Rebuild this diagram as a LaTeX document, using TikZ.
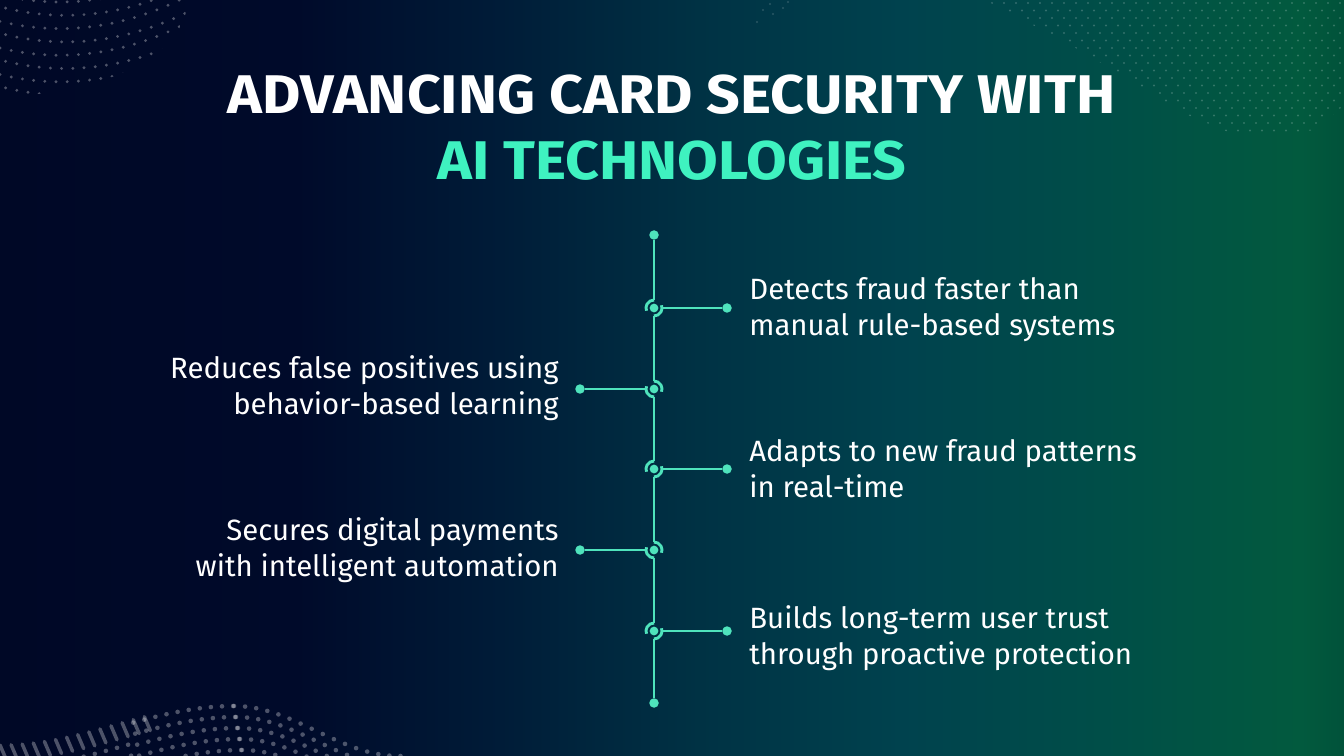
\documentclass[tikz,border=0pt]{standalone}
\usepackage{fontspec}
\setmainfont{Fira Sans}
\newfontfamily\headfont[FakeStretch=1.083]{Fira Sans}
\definecolor{slideA}{HTML}{000826}
\definecolor{slideB}{HTML}{000A2A}
\definecolor{slideC}{HTML}{001C38}
\definecolor{slideD}{HTML}{003244}
\definecolor{slideE}{HTML}{00424E}
\definecolor{slideF}{HTML}{004E48}
\definecolor{slideG}{HTML}{025A3E}
\definecolor{slideH}{HTML}{01523A}
\definecolor{mint}{HTML}{4FE3BC}
\definecolor{titlemint}{HTML}{3FF2C0}
\pgfdeclarehorizontalshading{slideshade}{100bp}{color(0bp)=(slideA); color(25bp)=(slideA); color(36bp)=(slideB); color(43.6bp)=(slideC); color(51bp)=(slideD); color(58.5bp)=(slideE); color(66bp)=(slideF); color(73.4bp)=(slideG); color(75bp)=(slideH); color(100bp)=(slideH)}
\tikzset{
	spine/.style={line width=0.058cm, color=mint},
	enddot/.style={circle, fill=mint, inner sep=0pt, minimum size=0.19cm},
	hubdot/.style={circle, fill=mint, inner sep=0pt, minimum size=0.175cm, outer sep=0.0725cm},
	bodytext/.style={color=white, inner sep=0pt, font=\fontsize{16.7pt}{20.5pt}\selectfont},
	headtext/.style={font=\fontsize{31pt}{37.5pt}\headfont\bfseries},
	softdot/.style={white, fill opacity=0.3},
}
\def\hubright#1{\draw[spine] (#1.north) arc (90:200:0.16cm); \draw[spine] (#1.south) arc (270:380:0.16cm);}
\def\hubleft#1{\draw[spine] (#1.north) arc (90:-20:0.16cm); \draw[spine] (#1.south) arc (270:160:0.16cm);}

\begin{document}
\begin{tikzpicture}[x=0.02cm, y=-0.02cm]
	%%%%% BACKGROUND %%%%%
	\shade[shading=slideshade] (0, 0) rectangle (1344, 756);
	\useasboundingbox (0, 0) rectangle (1344, 756);

	%%%%% DOTS %%%%%
	\begin{scope}
		\clip (0, 0) ellipse (3.75cm and 1.92cm);
		\foreach \i in {0,...,17} \foreach \j in {0,...,8}
			\fill[softdot] ({\i*11.2+mod(\j,2)*5.6}, {\j*13.3+2-0.002*(\i*11.2-60)*(\i*11.2-60)}) circle (0.032cm);
	\end{scope}
	\begin{scope}
		\clip (985, 0) -- (1067, 43) -- (1125, 77) -- (1183, 113) -- (1240, 137) -- (1317, 130) -- (1344, 105) -- (1344, 0) -- cycle;
		\foreach \i in {0,...,30} \foreach \j in {0,...,19}
			\fill[white, fill opacity=0.2] ({980+\i*12+mod(\j,2)*6}, {\j*7.5+3}) circle (0.024cm);
	\end{scope}
	\foreach \x/\y in {757/22, 763/10, 770/4, 773/14, 783/8, 788/2}
		\fill[white, fill opacity=0.16] (\x, \y) circle (0.024cm);
	\begin{scope}
		\clip (0, 690) rectangle (420, 756);
		% left slope
		\foreach \i in {0,...,21} {
			\pgfmathsetmacro\dotx{\i*11.1}
			\pgfmathsetmacro\doty{703+21*(1-cos(180*(1-\dotx/235)))}
			\ifnum\i<14
				\draw[white, opacity=0.3, line width=0.07cm, line cap=round] (\dotx, \doty) -- (\dotx+6, \doty+14);
			\fi
			\foreach \j in {0,...,5} {
				\ifnum\i>11
					\fill[softdot] (\dotx+\j*2, \doty+\j*11+3) circle (0.046cm);
				\fi
			}
			\ifnum\i<12
				\foreach \j in {2,...,4}
					\fill[softdot] (\dotx+\j*3, \doty+\j*11) circle (0.046cm);
			\fi
		}
		% right slope
		\foreach \i in {0,...,15} {
			\pgfmathsetmacro\dotx{235+\i*11.1}
			\pgfmathsetmacro\doty{703+25*(1-cos(\i*12.11))}
			\foreach \j in {0,...,5}
				\fill[softdot] (\dotx+\j*2-1, \doty+\j*11+3) circle (0.046cm);
		}
	\end{scope}

	%%%%% TITLE %%%%%
	\node[headtext, color=white] (headA) at (671.5, 94.5) {ADVANCING CARD SECURITY WITH};
	\node[headtext, color=titlemint] (headB) at (672, 160.5) {AI TECHNOLOGIES};

	%%%%% TIMELINE %%%%%
	\node[enddot] (top) at (654, 235) {};
	\node[enddot] (bottom) at (654, 703) {};

	\node[hubdot] (hubA) at (654, 308) {};
	\node[hubdot] (hubB) at (654, 389) {};
	\node[hubdot] (hubC) at (654, 469) {};
	\node[hubdot] (hubD) at (654, 550) {};
	\node[hubdot] (hubE) at (654, 631) {};

	\node[enddot] (endA) at (727, 308) {};
	\node[enddot] (endB) at (580, 389) {};
	\node[enddot] (endC) at (727, 469) {};
	\node[enddot] (endD) at (580, 550) {};
	\node[enddot] (endE) at (727, 631) {};

	\draw[spine] (top) -- (hubA.north);
	\draw[spine] (hubA.south) -- (hubB.north);
	\draw[spine] (hubB.south) -- (hubC.north);
	\draw[spine] (hubC.south) -- (hubD.north);
	\draw[spine] (hubD.south) -- (hubE.north);
	\draw[spine] (hubE.south) -- (bottom);

	\draw[spine] (hubA.east) -- (endA);
	\draw[spine] (endB) -- (hubB.west);
	\draw[spine] (hubC.east) -- (endC);
	\draw[spine] (endD) -- (hubD.west);
	\draw[spine] (hubE.east) -- (endE);

	\hubright{hubA}
	\hubleft{hubB}
	\hubright{hubC}
	\hubleft{hubD}
	\hubright{hubE}

	%%%%% LABELS %%%%%
	\node[bodytext, align=left, anchor=west] (textA) at (749, 309.5) {Detects fraud faster than\\manual rule-based systems};
	\node[bodytext, align=right, anchor=east] (textB) at (559, 388) {Reduces false positives using\\behavior-based learning};
	\node[bodytext, align=left, anchor=west] (textC) at (749, 469) {Adapts to new fraud patterns\\in real-time};
	\node[bodytext, align=right, anchor=east] (textD) at (559, 550) {Secures digital payments\\with intelligent automation};
	\node[bodytext, align=left, anchor=west] (textE) at (749, 638) {Builds long-term user trust\\through proactive protection};
\end{tikzpicture}
\end{document}
